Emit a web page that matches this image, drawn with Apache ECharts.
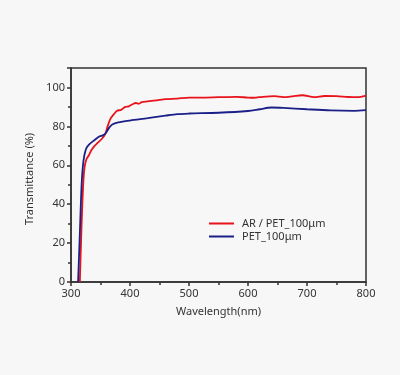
<!DOCTYPE html>
<html>
<head>
<meta charset="utf-8">
<script src="https://cdn.jsdelivr.net/npm/echarts@6/dist/echarts.min.js"></script>
<style>
  html, body { margin: 0; padding: 0; background: #f7f7f7; }
  #chart { width: 400px; height: 375px; }
</style>
</head>
<body>
<div id="chart"></div>
<script>
const seriesNames = ['AR / PET_100μm', 'PET_100μm'];

// wavelength (nm), transmittance (%)
const arPet = [
  [315, 0], [318, 30], [321, 52], [323, 59], [326, 63], [330, 65], [335, 68],
  [340, 70], [345, 71.5], [352, 73.5], [358, 76], [362, 80], [367, 84],
  [372, 86], [378, 88], [385, 88.5], [392, 90], [398, 90.3], [405, 91.5],
  [410, 92], [415, 91.6], [420, 92.5], [430, 92.8], [440, 93.2], [450, 93.6],
  [460, 94], [480, 94.3], [500, 94.8], [520, 94.8], [550, 95], [580, 95.2],
  [600, 94.8], [610, 94.7], [625, 95.2], [645, 95.5], [660, 95], [675, 95.4],
  [692, 96], [712, 95], [730, 95.6], [750, 95.5], [770, 95.1], [785, 95],
  [800, 95.8]
];

const pet = [
  [312, 0], [315, 25], [318, 50], [321, 62], [325, 68], [330, 70.5],
  [340, 73], [348, 74.8], [355, 75.5], [360, 77], [365, 79.5], [370, 81],
  [380, 82], [400, 83], [430, 84.2], [460, 85.5], [480, 86.3], [500, 86.6],
  [550, 87], [600, 87.9], [620, 88.8], [640, 89.7], [660, 89.5], [700, 88.8],
  [740, 88.2], [780, 88], [800, 88.3]
];

const axisColor = '#333';
const font = 'Noto Sans';

const chart = echarts.init(document.getElementById('chart'));
chart.setOption({
  backgroundColor: '#f7f7f7',
  animation: false,
  grid: {
    left: 71,
    right: 34,
    top: 68,
    bottom: 93,
    show: true,
    borderColor: axisColor,
    borderWidth: 1.5
  },
  legend: {
    orient: 'vertical',
    left: 204,
    top: 213,
    itemWidth: 25,
    itemHeight: 2,
    itemGap: 2,
    icon: 'rect',
    textStyle: { fontFamily: font, fontSize: 11, color: axisColor, padding: [0, 0, 0, 3] },
    data: seriesNames
  },
  xAxis: {
    type: 'value',
    min: 300,
    max: 800,
    interval: 100,
    name: 'Wavelength(nm)',
    nameLocation: 'middle',
    nameGap: 24,
    nameTextStyle: { fontFamily: font, fontSize: 11, color: axisColor },
    axisLine: { lineStyle: { color: axisColor, width: 1.5 } },
    axisTick: { length: 4, lineStyle: { color: axisColor, width: 1.5 } },
    minorTick: { show: true, splitNumber: 2, length: 3, lineStyle: { color: axisColor, width: 1.5 } },
    axisLabel: { fontFamily: font, fontSize: 11, color: axisColor, margin: 6 },
    splitLine: { show: false }
  },
  yAxis: {
    type: 'value',
    min: 0,
    max: 110,
    interval: 20,
    name: 'Transmittance (%)',
    nameLocation: 'middle',
    nameGap: 32,
    nameTextStyle: { fontFamily: font, fontSize: 11, color: axisColor, padding: [0, 8, 0, 0] },
    axisLine: { show: true, lineStyle: { color: axisColor, width: 1.5 } },
    axisTick: { show: true, length: 4, lineStyle: { color: axisColor, width: 1.5 } },
    minorTick: { show: true, splitNumber: 2, length: 3, lineStyle: { color: axisColor, width: 1.5 } },
    axisLabel: { fontFamily: font, fontSize: 11, color: axisColor, margin: 6, showMaxLabel: false },
    splitLine: { show: false }
  },
  series: [
    {
      name: seriesNames[0],
      type: 'line',
      data: arPet,
      smooth: 0.3,
      showSymbol: false,
      color: '#e8131b',
      lineStyle: { width: 1.8 }
    },
    {
      name: seriesNames[1],
      type: 'line',
      data: pet,
      smooth: 0.3,
      showSymbol: false,
      color: '#1b2088',
      lineStyle: { width: 1.8 }
    }
  ]
});
</script>
</body>
</html>
